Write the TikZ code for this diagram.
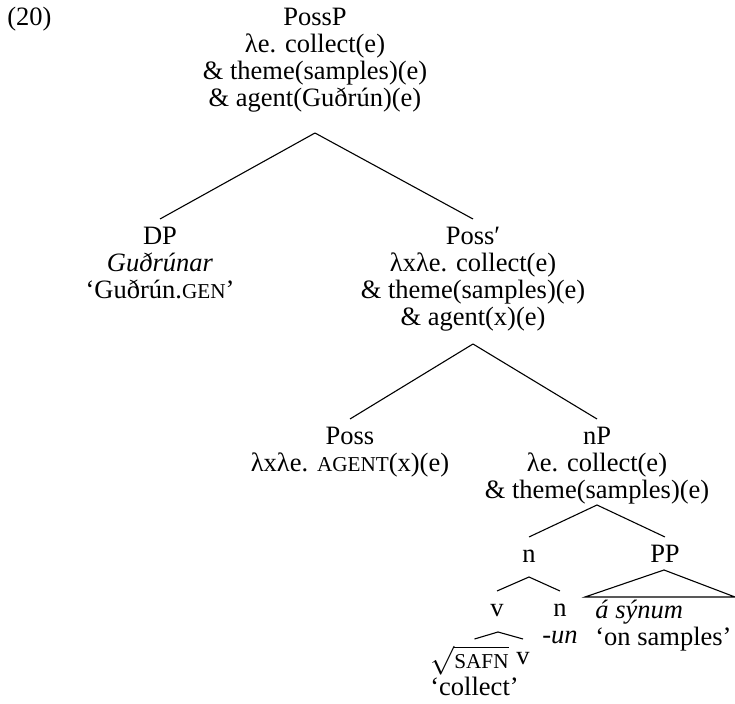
\documentclass[tikz,border=0pt]{standalone}
\usepackage{fontspec}
\setmainfont{Liberation Serif}
\usepackage{tikz}
\newcommand{\treefont}{\fontsize{13.25pt}{13.5pt}\selectfont}
\newcommand{\fsc}[1]{{\fontsize{10.6pt}{13.5pt}\selectfont #1}}

\begin{document}
\begin{tikzpicture}[x=0.5pt,y=-0.5pt,
  tn/.style={anchor=north,align=center,inner xsep=1.5pt,inner ysep=3pt,font=\treefont,
    execute at begin node=\strut,execute at end node=\strut},
  tl/.style={tn,anchor=north west,align=left},
  br/.style={line width=0.55pt,color=black}
]
\useasboundingbox (0,0) rectangle (735,704);
\node[tl] (ex) at (4,0) {(20)};

% Top of the tree.
\node[tn] (possp) at (315,0) {\strut PossP\\λe. collect(e)\\\& theme(samples)(e)\\\& agent(Guðrún)(e)};
\coordinate (possp-b) at (315,133);
\node[tn] (dp) at (160,219) {\strut DP\\\textit{Guðrúnar}\\‘Guðrún.\fsc{GEN}’};
\node[tn] (possbar) at (473,219) {\strut Poss′\\λxλe. collect(e)\\\& theme(samples)(e)\\\& agent(x)(e)};
\coordinate (possbar-b) at (473,344);
\draw[br] (possp-b)--(dp.north); \draw[br] (possp-b)--(possbar.north);

% Poss and nP.
\node[tn] (poss) at (350,419) {\strut Poss\\λxλe. \fsc{AGENT}(x)(e)};
\node[tn] (np) at (597,419) {\strut nP\\λe. collect(e)\\\& theme(samples)(e)};
\coordinate (np-b) at (597,505);
\draw[br] (possbar-b)--(poss.north); \draw[br] (possbar-b)--(np.north);

% Inside nP.
\node[tn] (n1) at (529,537) {n};
\node[tn] (pp) at (665,537) {PP};
\coordinate (n1-b) at (529,577);
\draw[br] (np-b)--(n1.north); \draw[br] (np-b)--(pp.north);
\coordinate (pp-b) at (664,570);
\coordinate (ppl) at (585,597);
\coordinate (ppr) at (735,597);
\draw[br] (pp-b)--(ppl)--(ppr)--cycle;
\node[tl] (ppt) at (592,593) {\strut\textit{á sýnum}\\‘on samples’};

\node[tn] (v1) at (497,591) {v};
\node[tn] (n2) at (560,591) {\strut n\\\textit{-un}};
\coordinate (v1-b) at (498,632);
\draw[br] (n1-b)--(v1.north); \draw[br] (n1-b)--(n2.north);

\node[tl] (root) at (427,639) {\strut$\sqrt{\mbox{\fsc{SAFN}}}$\\‘collect’};
\node[tn] (v2) at (523,639) {v};
\draw[br] (v1-b)--(root.north); \draw[br] (v1-b)--(v2.north);
\end{tikzpicture}
\end{document}
